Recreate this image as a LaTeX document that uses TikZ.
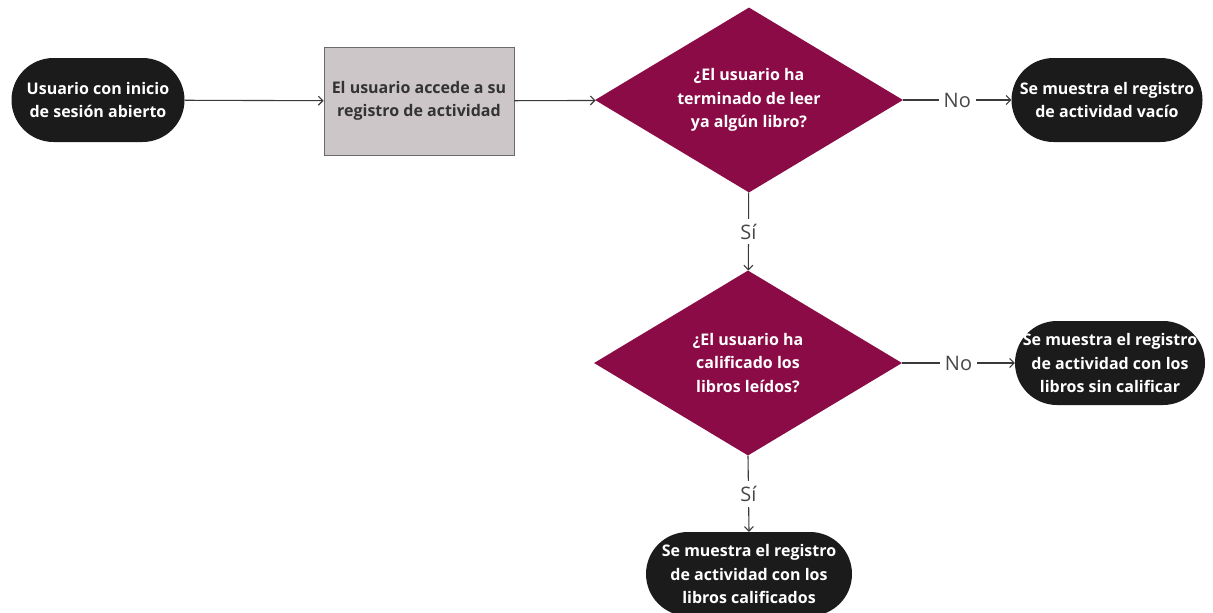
\documentclass[tikz,border=0pt]{standalone}
\usepackage{fontspec}
\setmainfont{Open Sans}
\usetikzlibrary{shapes.geometric,arrows.meta}
\definecolor{pillfill}{HTML}{1B1B1B}
\definecolor{decfill}{HTML}{8A0B45}
\definecolor{boxfill}{HTML}{CCC6C8}
\definecolor{boxline}{HTML}{6A6A6A}
\definecolor{linecol}{HTML}{3A3A3A}
\begin{document}
\begin{tikzpicture}[x=1pt,y=-1pt,
  txt/.style={font=\fontsize{16}{23.5}\selectfont\bfseries, align=center},
  pill/.style={txt, text=white, fill=pillfill, rounded corners=42pt,
    minimum height=84pt, inner sep=0pt},
  actbox/.style={txt, text=black!80, fill=boxfill, draw=boxline, line width=0.8pt,
    minimum width=190pt, minimum height=108pt, inner sep=0pt},
  decision/.style={txt, text=white, fill=decfill, diamond, aspect=1.66,
    minimum width=308pt, minimum height=185pt, inner sep=0pt},
  flow/.style={draw=linecol, line width=1.1pt, -{Straight Barb[length=4.5pt,width=9pt]}},
  lbl/.style={font=\fontsize{20}{22}\selectfont, text=black!72, fill=white,
    inner sep=5pt}
]
\useasboundingbox (0,0) rectangle (1213,613);

\node[pill, minimum width=173pt] (start) at (98,100)
  {Usuario con inicio\\de sesión abierto};
\node[actbox] (access) at (419,101)
  {El usuario accede a su\\registro de actividad};
\node[decision] (q1) at (749,100)
  {¿El usuario ha\\terminado de leer\\ya algún libro?};
\node[pill, minimum width=191pt] (empty) at (1107,100)
  {Se muestra el registro\\de actividad vacío};
\node[decision] (q2) at (748,363)
  {¿El usuario ha\\calificado los\\libros leídos?};
\node[pill, minimum width=190pt] (unrated) at (1110,363)
  {Se muestra el registro\\de actividad con los\\libros sin calificar};
\node[pill, minimum width=206pt] (rated) at (749,574)
  {Se muestra el registro\\de actividad con los\\libros calificados};

\draw[flow] (start) -- (access);
\draw[flow] (access) -- (q1);
\draw[flow] (q1) -- node[lbl] {No} (empty);
\draw[flow] (q1) -- node[lbl] {Sí} (q2);
\draw[flow] (q2) -- node[lbl] {No} (unrated);
\draw[flow] (q2.south) -- node[lbl] {Sí} (rated.north);
\end{tikzpicture}
\end{document}
